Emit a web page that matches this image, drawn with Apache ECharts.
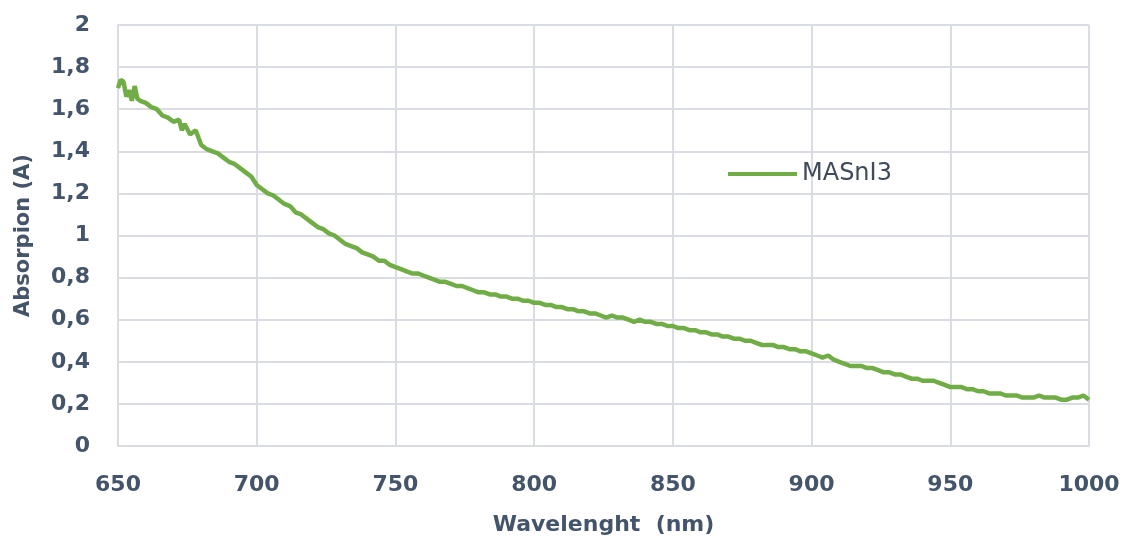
<!DOCTYPE html>
<html>
<head>
<meta charset="utf-8">
<script src="https://cdn.jsdelivr.net/npm/echarts@6/dist/echarts.min.js"></script>
<style>
  html, body { margin: 0; padding: 0; background: #fff; }
  #container { width: 1123px; height: 541px; }
</style>
</head>
<body>
<div id="container"></div>
<script>
// wavelength (nm) and absorption
var wavelength = [650, 651, 652, 653, 654, 655, 656, 657, 658, 660, 662, 664, 666, 668, 670, 672, 673, 674, 676, 678,
  680, 682, 684, 686, 688, 690, 692, 694, 696, 698,
  700, 702, 704, 706, 708, 710, 712, 714, 716, 718,
  720, 722, 724, 726, 728, 730, 732, 734, 736, 738,
  740, 742, 744, 746, 748, 750, 752, 754, 756, 758,
  760, 762, 764, 766, 768, 770, 772, 774, 776, 778,
  780, 782, 784, 786, 788, 790, 792, 794, 796, 798,
  800, 802, 804, 806, 808, 810, 812, 814, 816, 818,
  820, 822, 824, 826, 828, 830, 832, 834, 836, 838,
  840, 842, 844, 846, 848, 850, 852, 854, 856, 858,
  860, 862, 864, 866, 868, 870, 872, 874, 876, 878,
  880, 882, 884, 886, 888, 890, 892, 894, 896, 898,
  900, 902, 904, 906, 908, 910, 912, 914, 916, 918,
  920, 922, 924, 926, 928, 930, 932, 934, 936, 938,
  940, 942, 944, 946, 948, 950, 952, 954, 956, 958,
  960, 962, 964, 966, 968, 970, 972, 974, 976, 978,
  980, 982, 984, 986, 988, 990, 992, 994, 996, 998, 1000];
var absorption = [1.70, 1.74, 1.73, 1.66, 1.69, 1.64, 1.71, 1.65, 1.64, 1.63, 1.61, 1.60, 1.57, 1.56, 1.54, 1.55, 1.50, 1.53, 1.48, 1.50,
  1.43, 1.41, 1.40, 1.39, 1.37, 1.35, 1.34, 1.32, 1.30, 1.28,
  1.24, 1.22, 1.20, 1.19, 1.17, 1.15, 1.14, 1.11, 1.10, 1.08,
  1.06, 1.04, 1.03, 1.01, 1.00, 0.98, 0.96, 0.95, 0.94, 0.92,
  0.91, 0.90, 0.88, 0.88, 0.86, 0.85, 0.84, 0.83, 0.82, 0.82,
  0.81, 0.80, 0.79, 0.78, 0.78, 0.77, 0.76, 0.76, 0.75, 0.74,
  0.73, 0.73, 0.72, 0.72, 0.71, 0.71, 0.70, 0.70, 0.69, 0.69,
  0.68, 0.68, 0.67, 0.67, 0.66, 0.66, 0.65, 0.65, 0.64, 0.64,
  0.63, 0.63, 0.62, 0.61, 0.62, 0.61, 0.61, 0.60, 0.59, 0.60,
  0.59, 0.59, 0.58, 0.58, 0.57, 0.57, 0.56, 0.56, 0.55, 0.55,
  0.54, 0.54, 0.53, 0.53, 0.52, 0.52, 0.51, 0.51, 0.50, 0.50,
  0.49, 0.48, 0.48, 0.48, 0.47, 0.47, 0.46, 0.46, 0.45, 0.45,
  0.44, 0.43, 0.42, 0.43, 0.41, 0.40, 0.39, 0.38, 0.38, 0.38,
  0.37, 0.37, 0.36, 0.35, 0.35, 0.34, 0.34, 0.33, 0.32, 0.32,
  0.31, 0.31, 0.31, 0.30, 0.29, 0.28, 0.28, 0.28, 0.27, 0.27,
  0.26, 0.26, 0.25, 0.25, 0.25, 0.24, 0.24, 0.24, 0.23, 0.23,
  0.23, 0.24, 0.23, 0.23, 0.23, 0.22, 0.22, 0.23, 0.23, 0.24, 0.22];
var seriesName = 'MASnI3';

var points = wavelength.map(function (w, i) { return [w, absorption[i]]; });

var dom = document.getElementById('container');
var myChart = echarts.init(dom);
var labelColor = '#44546a';
var gridColor = '#d9dce3';
var font = 'DejaVu Sans';

var option = {
  animation: false,
  backgroundColor: '#ffffff',
  grid: { left: 118, right: 34, top: 25, bottom: 95, outerBoundsMode: 'none' },
  legend: {
    data: [seriesName],
    icon: 'rect',
    left: 728,
    top: 162,
    padding: 0,
    itemWidth: 69,
    itemHeight: 4,
    textStyle: { fontFamily: font, fontSize: 24, color: '#404a5a' }
  },
  xAxis: {
    type: 'value',
    min: 650,
    max: 1000,
    interval: 50,
    name: 'Wavelenght  (nm)',
    nameLocation: 'middle',
    nameGap: 68,
    nameTextStyle: { fontFamily: font, fontWeight: 'bold', fontSize: 22, color: labelColor },
    axisLine: { show: true, lineStyle: { color: gridColor, width: 2 } },
    axisTick: { show: false },
    axisLabel: {
      margin: 28, fontFamily: font, fontWeight: 'bold', fontSize: 22, color: labelColor,
      formatter: function (v) { return String(v); }
    },
    splitLine: { show: true, lineStyle: { color: gridColor, width: 2 } }
  },
  yAxis: {
    type: 'value',
    min: 0,
    max: 2,
    interval: 0.2,
    name: 'Absorpion (A)',
    nameLocation: 'middle',
    nameGap: 84,
    nameTextStyle: { fontFamily: font, fontWeight: 'bold', fontSize: 21, color: labelColor },
    axisLine: { show: true, lineStyle: { color: gridColor, width: 2 } },
    axisTick: { show: false },
    axisLabel: {
      margin: 28,
      fontFamily: font, fontWeight: 'bold', fontSize: 22, color: labelColor,
      formatter: function (v) { return String(Math.round(v * 10) / 10).replace('.', ','); }
    },
    splitLine: { show: true, lineStyle: { color: gridColor, width: 2 } }
  },
  series: [{
    name: seriesName,
    type: 'line',
    data: points,
    showSymbol: false,
    symbol: 'none',
    lineStyle: { color: '#70ad47', width: 4.5 },
    itemStyle: { color: '#70ad47' }
  }]
};

myChart.setOption(option, true);
</script>
</body>
</html>
